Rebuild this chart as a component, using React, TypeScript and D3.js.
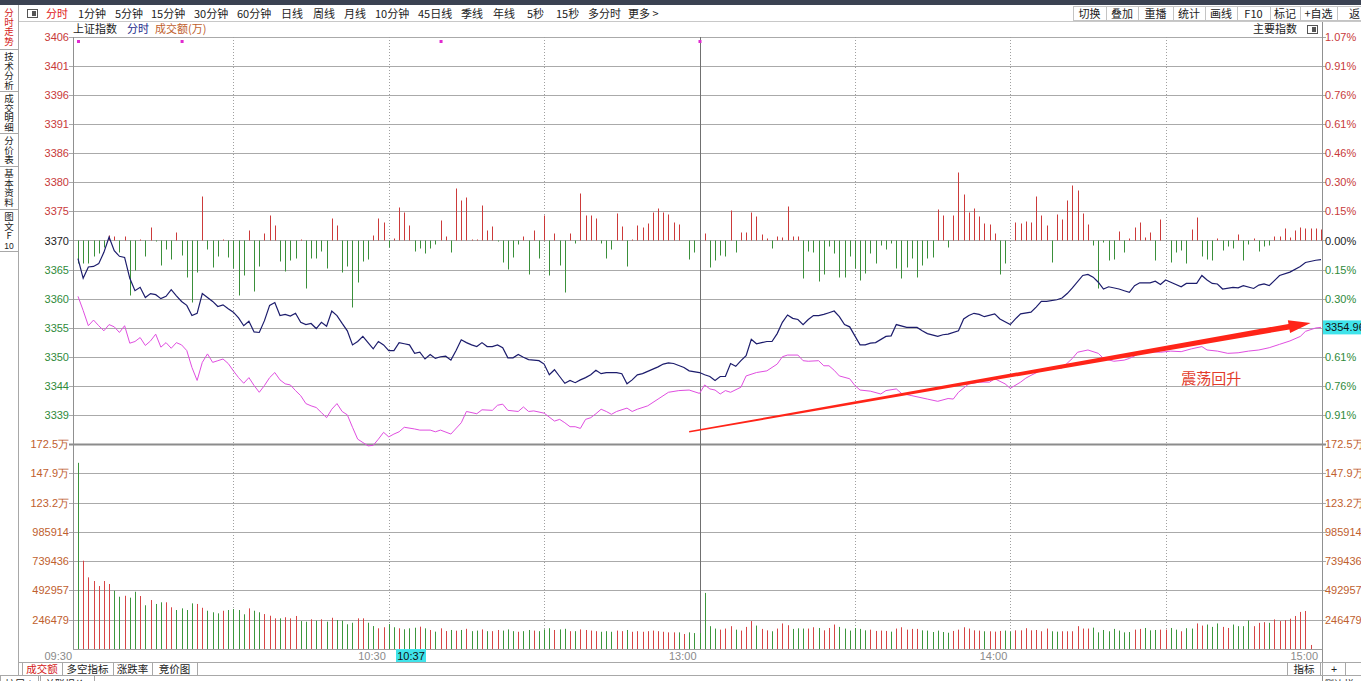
import React from 'react';
import * as d3 from 'd3';

// ---------------- data ----------------
const PREV_CLOSE = 3370.4;
const MAX_PCT = 1.07;

const priceTickLabels = ['3406', '3401', '3396', '3391', '3386', '3380', '3375', '3370', '3365', '3360', '3355', '3350', '3344', '3339'];
const pctTickLabels = ['1.07%', '0.91%', '0.76%', '0.61%', '0.46%', '0.30%', '0.15%', '0.00%', '0.15%', '0.30%', '0.46%', '0.61%', '0.76%', '0.91%'];
const volTickLabels = ['172.5万', '147.9万', '123.2万', '985914', '739436', '492957', '246479'];
const VOL_STEP = 246.479; // thousands (万 units)

const timeLabelMinutes = [0, 60, 120, 180, 240];
const timeLabels = ['09:30', '10:30', '13:00', '14:00', '15:00'];
const dottedGridMinutes = [30, 60, 90, 150, 180, 210];
const sessionBreakMinute = 120;
const cursorMinute = 67;
const cursorLabel = '10:37';
const eventMinutes = [0, 20, 70, 120];
const lastAvgLabel = '3354.96';

// index line: [minute, price]
const indexLine: [number, number][] = [
  [0, 3367.2], [1, 3363.7], [2, 3365.7], [3, 3365.8], [4, 3366.3], [5, 3368.3], [6, 3371.0], [7, 3368.6], [8, 3367.6], [9, 3367.4],
  [10, 3363.7], [11, 3361.5], [12, 3362.1], [13, 3360.3], [14, 3361.0], [15, 3360.8], [16, 3360.1], [17, 3360.5], [18, 3361.7], [19, 3360.6],
  [20, 3359.6], [21, 3358.9], [22, 3357.1], [23, 3357.5], [24, 3361.0], [25, 3360.3], [26, 3359.6], [27, 3358.7], [28, 3359.0], [29, 3358.3],
  [30, 3357.7], [31, 3356.7], [32, 3355.3], [33, 3356.1], [34, 3354.2], [35, 3354.1], [36, 3356.2], [37, 3358.9], [38, 3359.4], [39, 3357.1],
  [40, 3357.3], [41, 3357.0], [42, 3357.5], [43, 3355.9], [44, 3355.5], [45, 3355.7], [46, 3354.8], [47, 3355.9], [48, 3355.2], [49, 3357.9],
  [50, 3357.1], [51, 3355.7], [52, 3354.4], [53, 3351.9], [54, 3352.5], [55, 3353.4], [56, 3352.3], [57, 3351.2], [58, 3352.5], [59, 3351.9],
  [60, 3350.9], [61, 3350.9], [62, 3352.3], [63, 3352.1], [64, 3351.9], [65, 3350.4], [66, 3350.6], [67, 3349.4], [68, 3350.2], [69, 3349.5],
  [70, 3349.8], [71, 3349.9], [72, 3349.2], [73, 3350.9], [74, 3352.8], [75, 3352.3], [76, 3351.9], [77, 3351.6], [78, 3352.3], [79, 3351.6],
  [80, 3351.6], [81, 3351.9], [82, 3351.4], [83, 3349.6], [84, 3349.6], [85, 3350.2], [86, 3349.7], [87, 3349.3], [88, 3349.2], [89, 3349.1],
  [90, 3348.5], [91, 3346.6], [92, 3347.5], [93, 3346.3], [94, 3345.1], [95, 3345.6], [96, 3345.2], [97, 3345.7], [98, 3346.1], [99, 3346.6],
  [100, 3347.4], [101, 3346.8], [102, 3347.0], [103, 3347.0], [104, 3347.0], [105, 3346.8], [106, 3345.0], [107, 3345.7], [108, 3346.6], [109, 3346.8],
  [110, 3347.2], [111, 3347.6], [112, 3348.0], [113, 3348.5], [114, 3348.7], [115, 3348.6], [117, 3347.9], [118, 3347.3], [120, 3347.0],
  [121, 3346.6], [122, 3346.3], [123, 3345.6], [124, 3346.3], [125, 3346.3], [126, 3348.6], [127, 3348.1], [128, 3349.1], [129, 3350.0],
  [130, 3352.9], [131, 3352.1], [132, 3352.3], [133, 3352.5], [134, 3352.5], [135, 3353.9], [136, 3355.9], [137, 3357.2], [138, 3356.6], [139, 3356.4],
  [140, 3355.5], [141, 3356.4], [142, 3357.1], [143, 3357.1], [144, 3357.3], [145, 3357.6], [146, 3357.9], [147, 3356.9], [148, 3355.5], [149, 3355.1],
  [150, 3353.5], [151, 3351.9], [152, 3351.9], [153, 3352.2], [154, 3352.3], [156, 3353.4], [157, 3353.5], [158, 3355.5], [160, 3355.0], [162, 3355.0],
  [163, 3354.4], [164, 3353.9], [166, 3353.4], [167, 3353.7], [168, 3353.8], [170, 3354.4], [171, 3356.5], [172, 3357.1], [173, 3357.5], [174, 3357.3],
  [175, 3356.9], [177, 3357.4], [178, 3356.5], [180, 3355.5], [181, 3356.5], [182, 3357.4], [184, 3357.7], [185, 3358.6], [186, 3359.6], [187, 3359.6],
  [189, 3359.9], [190, 3360.2], [191, 3361.0], [192, 3362.0], [194, 3364.2], [195, 3364.4], [196, 3363.9], [197, 3363.0], [198, 3361.8], [199, 3362.2],
  [201, 3361.8], [202, 3361.5], [203, 3361.2], [204, 3362.4], [205, 3362.9], [207, 3362.9], [208, 3363.2], [209, 3362.6], [210, 3363.4], [211, 3363.0],
  [213, 3362.2], [214, 3362.8], [216, 3362.8], [217, 3364.2], [218, 3363.4], [219, 3362.8], [220, 3362.7], [221, 3361.8], [223, 3362.1], [224, 3362.0],
  [225, 3362.4], [227, 3361.9], [228, 3362.5], [229, 3362.7], [230, 3362.4], [231, 3363.3], [232, 3364.2], [234, 3364.8], [236, 3365.8], [237, 3366.5],
  [239, 3366.9], [240, 3367.0],
];

// average line: [minute, price]
const avgLine: [number, number][] = [
  [0, 3360.5], [1, 3358.0], [2, 3355.3], [3, 3356.3], [4, 3355.3], [5, 3354.4], [6, 3355.5], [7, 3355.1], [8, 3354.1], [9, 3355.3],
  [10, 3352.2], [11, 3352.5], [12, 3353.2], [13, 3351.8], [14, 3352.6], [15, 3353.8], [16, 3351.5], [17, 3352.3], [18, 3351.3], [19, 3352.3],
  [20, 3351.9], [21, 3350.9], [22, 3347.9], [23, 3345.6], [24, 3348.8], [25, 3350.3], [26, 3348.8], [27, 3349.1], [28, 3349.4], [29, 3348.6],
  [30, 3347.3], [31, 3346.1], [32, 3345.1], [33, 3346.1], [34, 3344.7], [35, 3343.5], [36, 3344.7], [37, 3346.1], [38, 3347.0], [39, 3345.7],
  [40, 3345.0], [41, 3344.8], [42, 3343.8], [43, 3342.9], [44, 3341.5], [45, 3341.1], [46, 3340.8], [47, 3339.9], [48, 3339.0], [49, 3340.5],
  [50, 3341.5], [51, 3340.1], [52, 3339.5], [53, 3337.3], [54, 3335.2], [55, 3334.6], [56, 3334.0], [57, 3334.1], [58, 3335.2], [59, 3336.4],
  [60, 3335.6], [61, 3336.1], [62, 3336.5], [63, 3337.3], [65, 3337.0], [66, 3336.8], [68, 3336.8], [69, 3336.5], [70, 3336.8], [72, 3336.1],
  [74, 3338.1], [75, 3340.1], [77, 3339.7], [78, 3340.4], [80, 3340.3], [81, 3341.2], [82, 3341.4], [83, 3340.3], [85, 3340.1], [86, 3340.9],
  [87, 3340.1], [88, 3340.2], [90, 3339.8], [92, 3338.4], [93, 3338.7], [94, 3338.1], [95, 3337.4], [96, 3337.4], [97, 3337.1], [98, 3338.7],
  [99, 3339.0], [100, 3339.7], [101, 3340.5], [102, 3340.1], [103, 3339.6], [104, 3340.1], [106, 3340.7], [107, 3340.1], [108, 3340.5], [110, 3341.1],
  [112, 3342.3], [114, 3343.5], [116, 3343.8], [118, 3343.9], [120, 3343.3], [121, 3344.8], [122, 3344.1], [123, 3343.9], [124, 3343.2], [125, 3343.8],
  [126, 3343.5], [128, 3344.4], [129, 3346.4], [131, 3347.0], [133, 3347.3], [135, 3348.5], [136, 3349.8], [137, 3350.1], [139, 3350.1], [140, 3349.1],
  [141, 3349.0], [143, 3349.1], [144, 3348.2], [145, 3348.2], [146, 3347.4], [147, 3346.4], [149, 3345.9], [150, 3344.7], [151, 3343.9], [153, 3343.7],
  [155, 3343.2], [156, 3343.8], [158, 3344.1], [159, 3343.3], [161, 3342.9], [164, 3342.3], [166, 3341.9], [168, 3342.4], [169, 3342.3], [170, 3343.5],
  [172, 3345.0], [174, 3345.3], [176, 3345.3], [177, 3345.9], [179, 3345.0], [180, 3344.2], [182, 3345.3], [183, 3346.0], [184, 3346.5], [186, 3347.4],
  [188, 3347.7], [190, 3347.8], [192, 3349.5], [193, 3350.6], [195, 3351.0], [197, 3350.4], [198, 3349.5], [200, 3349.0], [202, 3349.2], [203, 3349.5],
  [205, 3350.4], [207, 3350.7], [209, 3350.6], [211, 3350.8], [213, 3350.7], [215, 3351.2], [217, 3351.6], [218, 3351.0], [220, 3350.8], [222, 3350.4],
  [224, 3350.5], [226, 3350.8], [228, 3351.0], [230, 3351.4], [232, 3352.0], [234, 3352.6], [236, 3353.4], [237, 3354.3], [239, 3354.9], [240, 3355.0],
];

// red/green strength bars, one per minute (0..240)
const strength: number[] = [
  -23, -23, -23, -16, -13, -7, 5, 4, -12, 4,
  -55, -30, 1, -16, 13, -1, -25, -9, -19, 8,
  -15, -37, -62, -32, 44, -9, -27, -16, 1, -17,
  -28, -55, -35, 10, -51, -26, 7, 25, 15, -21,
  -31, -20, -18, 1, -48, -18, -18, -11, -28, 22,
  15, -32, -26, -67, -42, -21, -19, 5, 22, 18,
  -7, 2, 33, 28, 15, -11, -8, -13, -8, -4,
  20, 4, -12, 52, 40, 43, 1, 1, 35, 10,
  14, -1, -22, -29, -17, -4, 4, -34, 10, -18,
  25, -35, 7, -25, -52, 7, -3, 47, 25, 25,
  22, -3, -18, -9, 27, 14, -26, 1, 15, 13,
  17, 28, 32, 28, 26, 18, 16, 0, -19, -12,
  0, 7, -27, -20, -15, -16, 30, -12, 8, 8,
  28, 24, 6, 2, -8, 4, 3, 34, 4, 4,
  -38, -11, -12, -41, -34, -6, -13, -37, -37, -16,
  -28, -40, -33, -13, -23, -5, -9, -3, -28, -38,
  -27, -18, -37, -25, -18, -17, 31, 25, -7, 25,
  68, 46, 28, 32, 24, 17, 16, 7, -34, -23,
  0, 18, 17, 19, 18, 44, 25, 15, -22, 26,
  21, 40, 55, 50, 27, 16, -5, -48, -2, -20,
  -19, 9, -12, 2, 13, 18, 3, 8, -20, 21,
  0, -22, -12, -10, -23, 11, 23, -16, -19, -20,
  2, -10, -6, -8, 6, -20, -4, 2, -11, -6,
  -5, 4, 4, 12, 3, 10, 13, 12, 12, 12,
  11,
];

// turnover per minute, thousands of 万
const volumeK: number[] = [
  1567, 743, 603, 572, 530, 572, 547, 490, 440, 448,
  432, 482, 446, 368, 412, 379, 393, 393, 351, 328,
  342, 328, 384, 379, 347, 322, 309, 300, 322, 328,
  336, 328, 292, 342, 322, 309, 294, 280, 258, 258,
  267, 258, 278, 235, 230, 250, 238, 250, 230, 263,
  244, 238, 208, 221, 258, 258, 221, 193, 174, 183,
  210, 183, 174, 166, 174, 179, 188, 174, 160, 146,
  174, 151, 160, 154,
  160, 170, 150, 155, 165, 150, 150, 160, 155, 165,
  150, 145, 150, 160, 155, 150, 165, 175, 160, 165,
  170, 150, 150, 165, 160, 155, 150, 145, 150, 145,
  155, 150, 160, 145, 150, 145, 150, 155, 150, 145,
  140, 140, 140,
  126, 140, 134, 134, 472, 192, 172, 163, 172, 192,
  163, 155, 186, 235, 197, 169, 157, 149, 172, 215,
  200, 169, 174, 172, 172, 183, 177, 157, 177, 206,
  186, 172, 155, 177, 169, 157, 163, 152, 155, 152,
  146, 172, 183, 163, 169, 169, 157, 155, 143, 155,
  143, 137, 152, 163, 183, 172, 157, 155, 149, 149,
  146, 152, 155, 146, 157, 157, 175, 157, 160, 149,
  172, 149, 146, 149, 149, 149, 192, 172, 172, 180,
  140, 160, 149, 169, 155, 140, 143, 163, 169, 177,
  157, 160, 163, 163, 177, 163, 149, 175, 172, 215,
  197, 206, 186, 215, 186, 177, 206, 192, 192, 240,
  192, 220, 226, 220, 249, 235, 243, 255, 278, 312,
  320, 34, 0, 0,
];

// 1 = up (red), 0 = down (green)
const volumeUp: number[] = [
  0, 1, 1, 1, 1, 1, 1, 0, 0, 1,
  0, 0, 1, 0, 1, 0, 0, 1, 1, 0,
  0, 0, 0, 1, 1, 0, 0, 0, 1, 0,
  0, 0, 0, 1, 0, 0, 1, 1, 1, 0,
  1, 1, 1, 0, 0, 1, 0, 1, 0, 1,
  0, 0, 0, 0, 1, 1, 0, 0, 1, 1,
  0, 0, 1, 0, 0, 0, 1, 0, 1, 0,
  1, 1, 0, 1,
  0, 1, 0, 0, 1, 0, 1, 1, 0, 0,
  0, 1, 0, 0, 1, 0, 0, 0, 1, 0,
  0, 1, 0, 1, 1, 1, 1, 0, 0, 0,
  1, 1, 0, 1, 1, 1, 1, 1, 1, 1,
  1, 1, 0,
  1, 0, 0, 0, 0, 0, 0, 1, 1, 1,
  0, 1, 1, 1, 0, 1, 1, 0, 1, 1,
  1, 0, 0, 0, 1, 1, 0, 1, 1, 1,
  0, 0, 0, 0, 0, 0, 1, 1, 1, 1,
  0, 1, 1, 1, 1, 1, 0, 0, 0, 0,
  0, 0, 1, 1, 1, 1, 1, 1, 0, 1,
  1, 1, 0, 0, 1, 1, 1, 1, 1, 1,
  1, 0, 0, 1, 1, 1, 1, 1, 1, 0,
  0, 0, 0, 0, 0, 0, 0, 1, 1, 0,
  0, 0, 1, 1, 0, 0, 1, 0, 0, 1,
  1, 0, 0, 0, 1, 1, 0, 0, 0, 0,
  1, 1, 1, 0, 1, 1, 1, 1, 1, 1,
  1, 1, 1, 1,
];

// annotation (trend arrow) in data space
const arrowFrom: [number, number] = [118, 3336.5];
const arrowTo: [number, number] = [238, 3355.8];
const annotationText = '震荡回升';
const annotationAt: [number, number] = [213, 3344.9];

// UI chrome texts
const toolbarItems = ['分时', '1分钟', '5分钟', '15分钟', '30分钟', '60分钟', '日线', '周线', '月线', '10分钟', '45日线', '季线', '年线', '5秒', '15秒', '多分时', '更多 >'];
const toolbarX = [46, 78, 115, 151, 194, 237, 281, 313, 344, 375, 418, 461, 493, 527, 556, 588, 628];
const rightButtons = ['切换', '叠加', '重播', '统计', '画线', 'F10', '标记', '+自选', '返'];
const rightButtonEdges = [1073, 1106, 1138, 1173, 1205, 1237, 1270, 1300, 1337, 1372];
const sideTabs = ['分时走势', '技术分析', '成交明细', '分价表', '基本资料', '图文F'];
const sideTabSuffix = ['', '', '', '', '', '10'];
const sideTabEdges = [5, 49, 91, 133, 166, 209, 251];
const bottomTabs = ['成交额', '多空指标', '涨跌率', '竞价图'];
const bottomTabEdges = [22, 62, 113, 152, 197];

// ---------------- chart ----------------
const CN = '"Noto Sans CJK SC", "Noto Sans", sans-serif';
const NUM = '"Liberation Sans", Arial, sans-serif';
const RED_T = '#c83a3a';
const GREEN_T = '#2f8a3a';
const ORANGE_T = '#c0602e';
const GRID = '#aaaaaa';

export default function App() {
  const L = 73, R = 1322, PT = 37, PB = 444, VB = 649;
  const x = d3.scaleLinear().domain([0, 240]).range([78, 1321]);
  const yP = d3.scaleLinear()
    .domain([PREV_CLOSE * (1 - MAX_PCT / 100), PREV_CLOSE * (1 + MAX_PCT / 100)])
    .range([PB, PT]);
  const yV = d3.scaleLinear().domain([0, VOL_STEP * 7]).range([VB, PB]);
  const base = yP(PREV_CLOSE);
  const yS = d3.scaleLinear().domain([0, 100]).range([base, base - 100]);

  const line = d3.line<[number, number]>().x(d => x(d[0])).y(d => yP(d[1]));

  const priceLevels = priceTickLabels.map((_, k) => PREV_CLOSE * (1 + (MAX_PCT * (7 - k) / 7) / 100));
  const volLevels = volTickLabels.map((_, k) => VOL_STEP * (7 - k));

  const px = (v: number) => Math.round(v) + 0.5;

  // arrow polygon
  const p0 = [x(arrowFrom[0]), yP(arrowFrom[1])];
  const p1 = [x(arrowTo[0]), yP(arrowTo[1])];
  const dx = p1[0] - p0[0], dy = p1[1] - p0[1];
  const len = Math.hypot(dx, dy);
  const u = [dx / len, dy / len];
  const n = [-u[1], u[0]];
  const headLen = 22;
  const pb = [p1[0] - u[0] * headLen, p1[1] - u[1] * headLen];
  const pt = (p: number[], s: number) => `${p[0] + n[0] * s},${p[1] + n[1] * s}`;
  const arrowPts = [pt(p0, 0.7), pt(pb, 2.8), pt(pb, 6.5), `${p1[0]},${p1[1]}`, pt(pb, -6.5), pt(pb, -2.8), pt(p0, -0.7)].join(' ');

  const lastAvg = avgLine[avgLine.length - 1];
  const lastAvgY = yP(lastAvg[1]);

  return (
    <svg width={1361} height={681} style={{ position: 'absolute', left: 0, top: 0, background: '#fff' }}
      xmlns="http://www.w3.org/2000/svg">
      <rect x={0} y={0} width={1361} height={681} fill="#fff" />
      {/* top dark strip */}
      <rect x={0} y={0} width={1361} height={5} fill="#3b4252" />

      {/* toolbar */}
      <line x1={18} x2={1361} y1={21.5} y2={21.5} stroke="#c8c8c8" />
      <rect x={27.5} y={9.5} width={10} height={8} fill="#fff" stroke="#555" />
      <rect x={32} y={11} width={4} height={5} fill="#555" />
      {toolbarItems.map((t, i) => (
        <text key={t} x={toolbarX[i]} y={18} fontFamily={CN} fontSize={11} fill={i === 0 ? '#e02020' : '#222'}>{t}</text>
      ))}
      {rightButtons.map((t, i) => (
        <g key={t}>
          <rect x={rightButtonEdges[i] + 0.5} y={6.5} width={rightButtonEdges[i + 1] - rightButtonEdges[i]} height={14} fill="#fff" stroke="#c4c4c4" />
          <text x={(rightButtonEdges[i] + rightButtonEdges[i + 1]) / 2} y={18} textAnchor="middle" fontFamily={CN} fontSize={11} fill="#222">{t}</text>
        </g>
      ))}

      {/* second header row */}
      <text x={73} y={33} fontFamily={CN} fontSize={11} fill="#222">上证指数</text>
      <text x={127} y={33} fontFamily={CN} fontSize={11} fill="#1c2a8a">分时</text>
      <text x={155} y={33} fontFamily={CN} fontSize={11} fill={ORANGE_T}>成交额(万)</text>
      <text x={1297} y={33} textAnchor="end" fontFamily={CN} fontSize={11} fill="#222">主要指数</text>
      <rect x={1307.5} y={25.5} width={10} height={8} fill="#fff" stroke="#555" />
      <rect x={1312} y={27} width={4} height={5} fill="#555" />

      {/* left sidebar */}
      <line x1={18.5} x2={18.5} y1={5} y2={681} stroke="#a8a8a8" />
      {sideTabs.map((label, i) => {
        const top = sideTabEdges[i];
        const bottom = sideTabEdges[i + 1];
        return (
          <g key={i}>
            <line x1={0} x2={18} y1={bottom + 0.5} y2={bottom + 0.5} stroke="#a8a8a8" />
            <text x={9} y={top + 3} writingMode="vertical-rl"
              style={{ textOrientation: 'upright', writingMode: 'vertical-rl' } as any}
              fontFamily={CN} fontSize={9.5} fill={i === 0 ? '#d42020' : '#222'}>{label}</text>
            {sideTabSuffix[i] && (
              <text x={9} y={bottom - 2} textAnchor="middle" fontFamily={NUM} fontSize={8.5} fill="#222">{sideTabSuffix[i]}</text>
            )}
          </g>
        );
      })}

      {/* horizontal grid: price panel */}
      {priceLevels.map((v, k) => (
        <g key={'pg' + k}>
          <line x1={L - 4} x2={R + 4} y1={px(yP(v))} y2={px(yP(v))} stroke={GRID} />
          <text x={69} y={yP(v) + 4} textAnchor="end" fontFamily={NUM} fontSize={11}
            fill={k < 7 ? RED_T : k === 7 ? '#222' : GREEN_T}>{priceTickLabels[k]}</text>
          {Math.abs(yP(v) - lastAvgY) > 9 && (
            <text x={1325} y={yP(v) + 4} fontFamily={NUM} fontSize={11}
              fill={k < 7 ? RED_T : k === 7 ? '#222' : GREEN_T}>{pctTickLabels[k]}</text>
          )}
        </g>
      ))}
      {/* volume panel grid */}
      {volLevels.map((v, k) => (
        <g key={'vg' + k}>
          <line x1={L - 4} x2={R + 4} y1={px(yV(v))} y2={px(yV(v))} stroke={k === 0 ? '#8c8c8c' : GRID} strokeWidth={k === 0 ? 2 : 1} />
          <text x={69} y={yV(v) + 4} textAnchor="end" fontFamily={NUM} fontSize={11} fill={ORANGE_T}>{volTickLabels[k]}</text>
          <text x={1325} y={yV(v) + 4} fontFamily={NUM} fontSize={11} fill={ORANGE_T}>{volTickLabels[k]}</text>
        </g>
      ))}
      <line x1={L} x2={R} y1={VB + 0.5} y2={VB + 0.5} stroke="#a0a0a0" />

      {/* vertical grid */}
      {dottedGridMinutes.map(m => (
        <line key={'vd' + m} x1={px(x(m))} x2={px(x(m))} y1={PT} y2={VB} stroke="#a0a0a0" strokeDasharray="1,2" />
      ))}
      <line x1={px(x(sessionBreakMinute))} x2={px(x(sessionBreakMinute))} y1={PT} y2={VB} stroke="#707070" />
      <line x1={L + 0.5} x2={L + 0.5} y1={PT} y2={VB} stroke="#909090" />
      <line x1={R + 0.5} x2={R + 0.5} y1={PT - 15} y2={681} stroke="#909090" />

      {/* strength bars */}
      {strength.map((v, m) => v === 0 ? null : (
        <line key={'s' + m} x1={px(x(m))} x2={px(x(m))} y1={yS(0)} y2={yS(v)}
          stroke={v > 0 ? '#cc3a3a' : '#3a8f3a'} strokeWidth={1} />
      ))}

      {/* volume bars */}
      {volumeK.map((v, m) => v === 0 ? null : (
        <line key={'v' + m} x1={px(x(m))} x2={px(x(m))} y1={yV(0)} y2={yV(v)}
          stroke={volumeUp[m] ? '#d64545' : '#3c963c'} strokeWidth={1} />
      ))}

      {/* lines */}
      <path d={line(avgLine) || ''} fill="none" stroke="#e04ee0" strokeWidth={1} />
      <path d={line(indexLine) || ''} fill="none" stroke="#1c1c6c" strokeWidth={1.2} />

      {/* event markers */}
      {eventMinutes.map(m => (
        <rect key={'e' + m} x={x(m) - 1} y={40} width={3} height={3} fill="#e02ad0" />
      ))}

      {/* trend arrow + label */}
      <polygon points={arrowPts} fill="#ff2418" />
      <text x={x(annotationAt[0])} y={yP(annotationAt[1])} fontFamily={CN} fontSize={15} fill="#e23c2c">{annotationText}</text>

      {/* last value tag */}
      <rect x={R + 1} y={lastAvgY - 7} width={40} height={14} fill="#3fe3ea" />
      <text x={R + 3} y={lastAvgY + 4} fontFamily={NUM} fontSize={11} fill="#111">{lastAvgLabel}</text>

      {/* time axis */}
      {timeLabelMinutes.map((m, i) => (
        <text key={'t' + i} x={i === 0 ? L - 1 : Math.min(x(m) - 3, R - 2)} y={660} textAnchor="end"
          fontFamily={NUM} fontSize={11} fill="#8a8a8a">{timeLabels[i]}</text>
      ))}
      <rect x={x(cursorMinute) - 29} y={649} width={30} height={13} fill="#3fe3ea" />
      <text x={x(cursorMinute) - 14} y={660} textAnchor="middle" fontFamily={NUM} fontSize={11} fill="#111">{cursorLabel}</text>

      {/* bottom tabs */}
      <line x1={18} x2={1361} y1={662.5} y2={662.5} stroke="#a8a8a8" />
      {bottomTabs.map((t, i) => (
        <g key={'bt' + i}>
          <rect x={bottomTabEdges[i] + 0.5} y={662.5} width={bottomTabEdges[i + 1] - bottomTabEdges[i]} height={13} fill="#fff" stroke="#a8a8a8" />
          <text x={(bottomTabEdges[i] + bottomTabEdges[i + 1]) / 2} y={672.5} textAnchor="middle" fontFamily={CN} fontSize={10.5}
            fill={i === 0 ? '#d42020' : '#222'}>{t}</text>
        </g>
      ))}
      <rect x={1287.5} y={662.5} width={33} height={13} fill="#fff" stroke="#a8a8a8" />
      <text x={1304} y={672.5} textAnchor="middle" fontFamily={CN} fontSize={10.5} fill="#222">指标</text>
      <rect x={1322.5} y={662.5} width={23} height={13} fill="#fff" stroke="#a8a8a8" />
      <text x={1334} y={672.5} textAnchor="middle" fontFamily={NUM} fontSize={10.5} fill="#222">+</text>

      {/* bottom-most row (cut off) */}
      <line x1={0} x2={1361} y1={675.5} y2={675.5} stroke="#a8a8a8" />
      <rect x={0.5} y={675.5} width={38} height={10} fill="#fff" stroke="#a8a8a8" />
      <text x={5} y={688} fontFamily={CN} fontSize={10} fill="#222">扩展∧</text>
      <rect x={40.5} y={675.5} width={54} height={10} fill="#fff" stroke="#a8a8a8" />
      <text x={45} y={688} fontFamily={CN} fontSize={10} fill="#222">关联报价</text>
      <text x={1324} y={688} fontFamily={CN} fontSize={10} fill="#222">侧边栏</text>
    </svg>
  );
}
